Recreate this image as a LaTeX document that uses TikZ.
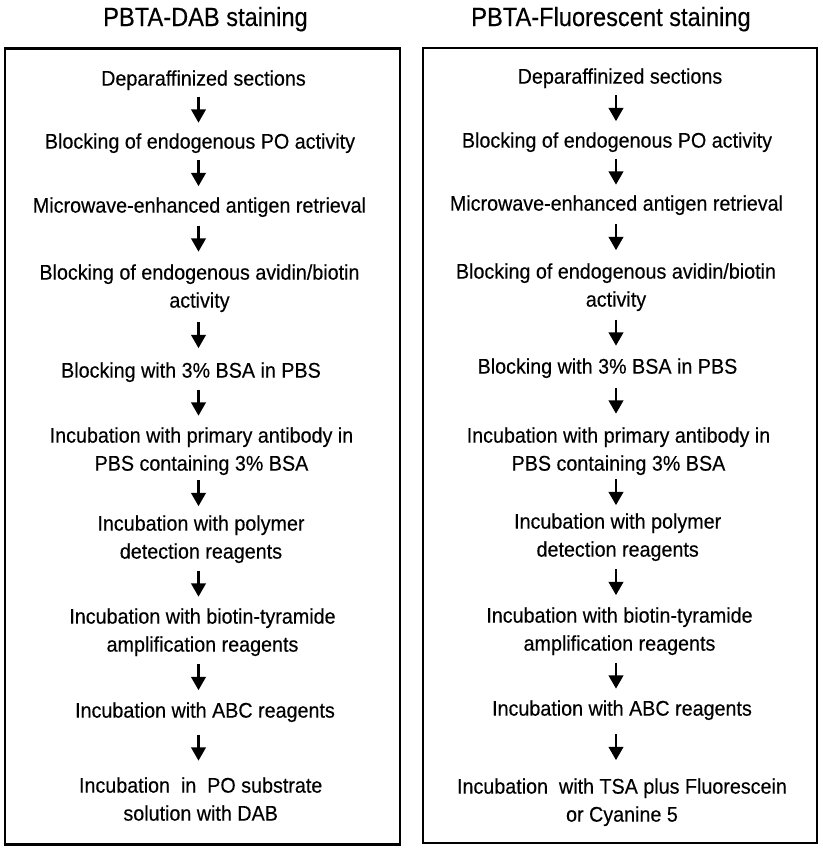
\documentclass[tikz,border=0pt]{standalone}
\usepackage{fontspec}
\setmainfont{Liberation Sans}
\newfontfamily\bodyfont[FakeStretch=0.93,FakeBold=0.3]{Liberation Sans}
\newfontfamily\titlefont[FakeStretch=0.9,FakeBold=0.3]{Liberation Sans}
\usetikzlibrary{arrows.meta,calc}
\begin{document}
\begin{tikzpicture}[x=0.75pt,y=-0.75pt,
  stepnode/.style={anchor=north, inner sep=0pt, align=center,
    font=\bodyfont\fontsize{15.9}{21}\selectfont},
  titlenode/.style={anchor=base, inner sep=0pt,
    font=\titlefont\fontsize{19.7}{24}\selectfont},
  panel/.style={draw=black, line width=1.9pt},
  flow/.style={-{Triangle[width=11pt,length=10pt]}, line width=1.6pt},
]
\useasboundingbox (0,0) rectangle (822,850);

% titles
\node[titlenode] (tL) at (205.5,26) {PBTA-DAB staining};
\node[titlenode] (tR) at (611,26) {PBTA-Fluorescent staining};

% panels
\draw[panel] (5,48.5) rectangle (400,844.5);
\draw[panel] (423,48) rectangle (817,843);

\coordinate (axL) at (198.5,0);
\coordinate (axR) at (616,0);

% left column
\node[stepnode] (l1) at (203.5,70) {Deparaffinized sections};
\node[stepnode] (l2) at (200,133) {Blocking of endogenous PO activity};
\node[stepnode] (l3) at (199.5,197) {Microwave-enhanced antigen retrieval};
\node[stepnode] (l4) at (199.5,264) {Blocking of endogenous avidin/biotin\\activity};
\node[stepnode] (l5) at (191,362) {Blocking with 3\% BSA in PBS};
\node[stepnode] (l6) at (201.5,427) {Incubation with primary antibody in\\PBS containing 3\% BSA};
\node[stepnode] (l7) at (201,515) {Incubation with polymer\\detection reagents};
\node[stepnode] (l8) at (202.5,608) {Incubation with biotin-tyramide\\amplification reagents};
\node[stepnode] (l9) at (205,702) {Incubation with ABC reagents};
\node[stepnode] (l10) at (200.7,777) {Incubation\ \ in\ \ PO substrate\\solution with DAB};

% right column
\node[stepnode] (r1) at (620,68) {Deparaffinized sections};
\node[stepnode] (r2) at (617,132) {Blocking of endogenous PO activity};
\node[stepnode] (r3) at (616.5,195) {Microwave-enhanced antigen retrieval};
\node[stepnode] (r4) at (616,263) {Blocking of endogenous avidin/biotin\\activity};
\node[stepnode] (r5) at (607.5,358) {Blocking with 3\% BSA in PBS};
\node[stepnode] (r6) at (618.5,427) {Incubation with primary antibody in\\PBS containing 3\% BSA};
\node[stepnode] (r7) at (617.7,513) {Incubation with polymer\\detection reagents};
\node[stepnode] (r8) at (619.5,607) {Incubation with biotin-tyramide\\amplification reagents};
\node[stepnode] (r9) at (622,700) {Incubation with ABC reagents};
\node[stepnode] (r10) at (622,778) {Incubation\ \ with TSA plus Fluorescein\\or Cyanine 5};

% arrows
\foreach \a/\b/\ax in {l1/l2/axL,l2/l3/axL,l3/l4/axL,l4/l5/axL,l5/l6/axL,l6/l7/axL,l7/l8/axL,l8/l9/axL,l9/l10/axL,
                       r1/r2/axR,r2/r3/axR,r3/r4/axR,r4/r5/axR,r5/r6/axR,r6/r7/axR,r7/r8/axR,r8/r9/axR,r9/r10/axR}{
  \coordinate (mt) at ($(\a.south)!0.5!(\b.north)+(0,-15)$);
  \coordinate (mb) at ($(\a.south)!0.5!(\b.north)+(0,11)$);
  \draw[flow] (mt -| \ax) -- (mb -| \ax);
}
\end{tikzpicture}
\end{document}
